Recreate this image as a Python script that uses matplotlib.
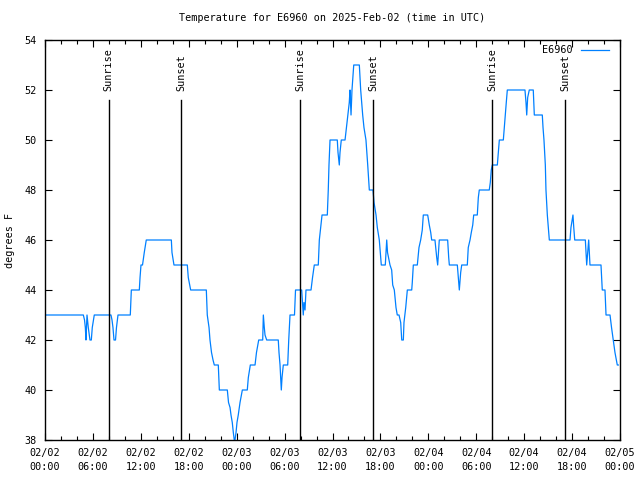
import matplotlib
matplotlib.use("Agg")
import matplotlib.pyplot as plt

plt.rcParams['font.family'] = ['DejaVu Sans Mono']

# hours since 2025-02-02 00:00 UTC and temperature (deg F) for E6960
hours = [0.00, 4.80, 4.95, 5.05, 5.13, 5.26, 5.42, 5.63, 5.80, 5.92, 6.17,
         8.26, 8.39, 8.51, 8.64, 8.83, 8.95, 9.14, 10.68, 10.74, 10.81,
         11.81, 11.90, 12.02, 12.21, 12.43, 12.68, 15.82, 15.90, 16.15,
         17.82, 17.94, 18.24, 20.20, 20.32, 20.54, 20.66, 20.85, 21.04,
         21.20, 21.70, 21.83, 22.83, 22.98, 23.17, 23.29, 23.45, 23.58,
         23.70, 23.79, 23.92, 24.04, 24.20, 24.42, 24.71, 25.33, 25.46,
         25.61, 25.71, 26.30, 26.48, 26.76, 27.26, 27.34, 27.46, 27.55,
         27.76, 29.21, 29.30, 29.43, 29.59, 29.68, 29.84, 30.39, 30.52,
         30.68, 31.24, 31.37, 32.14, 32.24, 32.34, 32.43, 32.56, 32.68,
         33.31, 33.50, 33.72, 34.22, 34.35, 34.52, 34.69, 35.35, 35.47,
         35.56, 35.69, 36.60, 36.69, 36.85, 36.94, 37.10, 37.57, 37.75,
         37.94, 38.10, 38.19, 38.32, 38.44, 38.66, 39.36, 39.53, 39.78,
         39.94, 40.19, 40.41, 40.61, 41.07, 41.20, 41.45, 41.61, 41.86,
         42.11, 42.61, 42.79, 42.89, 43.07, 43.20, 43.41, 43.54, 43.74,
         43.95, 44.11, 44.33, 44.54, 44.67, 44.87, 44.95, 45.17, 45.37,
         45.92, 45.99, 46.12, 46.62, 46.83, 47.04, 47.24, 47.37, 47.92,
         48.12, 48.30, 48.42, 48.83, 49.05, 49.17, 49.37, 50.42, 50.55,
         50.63, 51.63, 51.80, 51.88, 52.05, 52.18, 52.88, 53.00, 53.22,
         53.38, 53.56, 53.68, 54.13, 54.26, 54.38, 55.63, 55.76, 55.88,
         56.01, 56.64, 56.76, 56.89, 57.39, 57.51, 57.64, 57.76, 57.89,
         60.10, 60.23, 60.32, 60.44, 60.64, 61.14, 61.27, 62.27, 62.36,
         62.48, 62.65, 62.73, 62.90, 63.02, 63.15, 65.74, 65.86, 66.11,
         66.21, 66.33, 67.66, 67.83, 68.08, 68.24, 69.62, 69.78, 70.12,
         70.25, 70.75, 70.94, 71.16, 71.37, 71.66, 71.79]
temps = [43, 43, 42.8, 42.5, 42, 43, 42.5, 42, 42, 42.5, 43,
         43, 42.8, 42.5, 42, 42, 42.5, 43, 43, 43.5, 44,
         44, 44.5, 45, 45, 45.5, 46, 46, 45.5, 45,
         45, 44.5, 44, 44, 43, 42.5, 42, 41.5, 41.2,
         41, 41, 40, 40, 39.5, 39.3, 39, 38.7, 38.3,
         38, 38, 38.3, 38.7, 39, 39.5, 40, 40, 40.5,
         40.8, 41, 41, 41.5, 42, 42, 43, 42.5, 42.2,
         42, 42, 41.5, 41, 40, 40.5, 41, 41, 42,
         43, 43, 44, 44, 43.5, 43, 43.5, 43.2, 44,
         44, 44.5, 45, 45, 46, 46.5, 47, 47, 48,
         49, 50, 50, 49.5, 49, 49.5, 50, 50, 50.5,
         51, 51.5, 52, 51, 52, 53, 53, 52, 51,
         50.5, 50, 49, 48, 48, 47.5, 47, 46.5, 46,
         45, 45, 46, 45.5, 45.2, 45, 44.8, 44.2, 44,
         43.3, 43, 43, 42.7, 42, 42, 42.7, 43.3, 44,
         44, 44.3, 45, 45, 45.7, 46, 46.4, 47, 47,
         46.6, 46.3, 46, 46, 45.3, 45, 46, 46, 45.3,
         45, 45, 44.3, 44, 44.7, 45, 45, 45.7, 46,
         46.3, 46.6, 47, 47, 47.7, 48, 48, 48.3, 48.8,
         49, 49, 49.5, 50, 50, 50.5, 51, 51.5, 52,
         52, 51.5, 51, 51.7, 52, 52, 51, 51, 50.5,
         50, 49, 48, 47, 46.5, 46, 46, 46.5, 47,
         46.5, 46, 46, 45, 46, 45, 45, 44, 44,
         43, 43, 42.5, 42, 41.5, 41, 41]

sunrise = [7.97, 31.93, 55.96]
sunset = [17.03, 41.07, 65.11]

xtick_pos = [0, 6, 12, 18, 24, 30, 36, 42, 48, 54, 60, 66, 72]
xtick_labels = ["02/02\n00:00", "02/02\n06:00", "02/02\n12:00", "02/02\n18:00",
                "02/03\n00:00", "02/03\n06:00", "02/03\n12:00", "02/03\n18:00",
                "02/04\n00:00", "02/04\n06:00", "02/04\n12:00", "02/04\n18:00",
                "02/05\n00:00"]

fig = plt.figure(figsize=(6.4, 4.8), dpi=100)
ax = fig.add_axes([45/640, 40/480, 575/640, 400/480])

ax.plot(hours, temps, color='#0080ff', lw=0.9, label='E6960')

for h in sunrise:
    ax.axvline(h, ymin=0, ymax=0.85, color='black', lw=1)
    ax.text(h, 51.95, 'Sunrise', rotation=90, ha='center', va='bottom', fontsize=7.3)
for h in sunset:
    ax.axvline(h, ymin=0, ymax=0.85, color='black', lw=1)
    ax.text(h, 51.95, 'Sunset', rotation=90, ha='center', va='bottom', fontsize=7.3)

ax.set_xlim(0, 72)
ax.set_ylim(38, 54)
ax.set_xticks(xtick_pos)
ax.set_xticklabels(xtick_labels, fontsize=7.3, linespacing=1.5)
ax.set_xticks(range(0, 73, 2), minor=True)
ax.set_yticks(range(38, 55, 2))
ax.tick_params(axis='both', which='both', direction='in', top=True, right=True, labelsize=7.3)
ax.tick_params(axis='both', which='major', length=5, width=0.8)
ax.tick_params(axis='both', which='minor', length=3, width=0.8)
ax.tick_params(axis='x', pad=6)
ax.tick_params(axis='y', pad=6)
for s in ax.spines.values():
    s.set_linewidth(1)

ax.set_ylabel('degrees F', fontsize=7.3, labelpad=7)
ax.set_title('Temperature for E6960 on 2025-Feb-02 (time in UTC)', fontsize=7.3, pad=14)
ax.legend(loc='upper right', bbox_to_anchor=(0.99, 1.0), frameon=False, markerfirst=False,
          fontsize=7.3, handlelength=2.8, borderaxespad=0.1, handletextpad=0.8)

fig.savefig('out.png', dpi=100)
